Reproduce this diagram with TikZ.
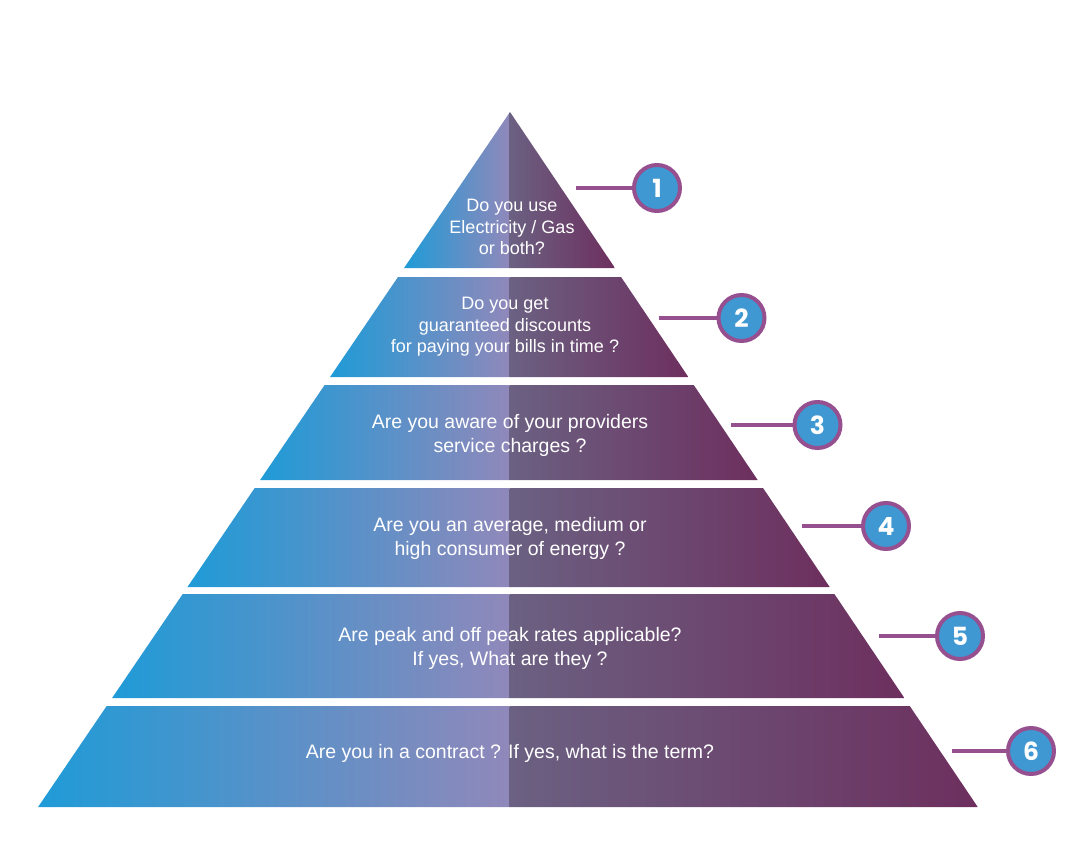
\documentclass[tikz,border=0pt]{standalone}
\usepackage{fontspec}
\usetikzlibrary{backgrounds}
\setmainfont{Liberation Sans}
\newfontfamily\numfont{Poppins}
\definecolor{lblue}{HTML}{1F9BD7}
\definecolor{llav}{HTML}{9088BA}
\definecolor{rgray}{HTML}{6B6182}
\definecolor{rpurp}{HTML}{6D2F5E}
\definecolor{cfill}{HTML}{3F98D2}
\definecolor{cline}{HTML}{97508F}
\newcommand\pyrlayer[2]{%
  \begin{scope}
    \clip ({510-0.679*(#1-112)},#1) -- ({510+0.673*(#1-112)},#1) -- ({510+0.673*(#2-112)},#2) -- ({510-0.679*(#2-112)},#2) -- cycle;
    \shade[left color=lblue, right color=llav] ({510-0.679*(#2-112)},#1) rectangle (509.5,#2);
    \shade[left color=rgray, right color=rpurp] (509.5,#1) rectangle ({510+0.673*(#2-112)},#2);
  \end{scope}}
\begin{document}
\begin{tikzpicture}[x=1bp,y=-1bp,
  qtext/.style={text=white, align=center, inner sep=0pt, font=\fontsize{19.5bp}{24.5bp}\selectfont},
  qsmall/.style={qtext, font=\fontsize{18bp}{21.5bp}\selectfont},
  numcircle/.style={circle, fill=cfill, draw=cline, line width=4bp, minimum size=46bp, inner sep=0pt, text=white, font=\numfont\bfseries\fontsize{25bp}{25bp}\selectfont},
  leader/.style={draw=cline, line width=4bp}]
\useasboundingbox (0,0) rectangle (1077,855);
\pyrlayer{112}{268}
\pyrlayer{277}{377}
\pyrlayer{385}{480}
\pyrlayer{488}{587}
\pyrlayer{594}{698}
\pyrlayer{706}{807}

\node[qsmall] (t1) at (512,227) {Do you use\\Electricity / Gas\\or both?};
\node[qsmall] (t2) at (505,327) {Do you get\\guaranteed discounts\\for paying your bills in time ?};
\node[qtext] (t3) at (510,435.5) {Are you aware of your providers\\service charges ?};
\node[qtext] (t4) at (510,538.5) {Are you an average, medium or\\high consumer of energy ?};
\node[qtext] (t5) at (510,648.5) {Are peak and off peak rates applicable?\\If yes, What are they ?};
\node[qtext] (t6) at (510,753) {Are you in a contract ? If yes, what is the term?};

\node[numcircle] (n1) at (657,188) {1};
\node[numcircle] (n2) at (741.5,318) {2};
\node[numcircle] (n3) at (817.5,425) {3};
\node[numcircle] (n4) at (886,526) {4};
\node[numcircle] (n5) at (960,636) {5};
\node[numcircle] (n6) at (1031,751) {6};

\coordinate (s1) at (576,188);
\coordinate (s2) at (659,318);
\coordinate (s3) at (731,425);
\coordinate (s4) at (802,526);
\coordinate (s5) at (879,636);
\coordinate (s6) at (952,751);

\begin{pgfonlayer}{background}
\foreach \i in {1,...,6} {\draw[leader] (s\i) -- (n\i.center);}
\end{pgfonlayer}
\end{tikzpicture}
\end{document}
